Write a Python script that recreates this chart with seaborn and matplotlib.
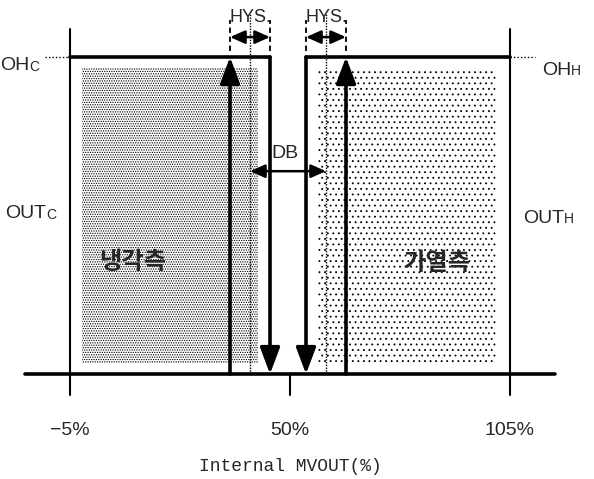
import matplotlib
matplotlib.use('Agg')
import matplotlib.pyplot as plt
import seaborn as sns
import pandas as pd

# x axis: Internal MVOUT (%), y axis: output level (0 = off, 100 = OH)
tick_pos = [-5, 50, 105]
tick_labels = ['\u22125%', '50%', '105%']
out_low, out_high = 0, 100

# cooling side (left box)
cool_box = [-5, 45]
cool_on = 35        # switches on going up
cool_mid = 40       # centre of hysteresis
cool_fill = [-2, 42]

# heating side (right box)
heat_box = [54, 105]
heat_on = 64
heat_mid = 59
heat_fill = [57, 101.5]

fill_y = [3.5, 96.5]
top_y = 108.8
hys_y = 106.3
db_y = 64

sns.set_theme(style='white')
sans = ['Liberation Sans', 'DejaVu Sans']
plt.rcParams['font.family'] = sans
plt.rcParams['hatch.linewidth'] = 0.6

fig = plt.figure(figsize=(5.94, 4.79), dpi=100)
ax = fig.add_axes([0, 0, 1, 1])
ax.set_xlim(-22.5, 126)
ax.set_ylim(-33.1, 118.0)
ax.axis('off')

thick = 2.6
thin = 1.5

# stippled areas
ax.fill_between(cool_fill, fill_y[0], fill_y[1], facecolor='white',
                edgecolor='black', hatch='.......', linewidth=0)
ax.fill_between(heat_fill, fill_y[0], fill_y[1], facecolor='white',
                edgecolor='black', hatch='...', linewidth=0)

# baseline
base = pd.DataFrame({'x': [-16.25, 116.25], 'y': [out_low, out_low]})
sns.lineplot(data=base, x='x', y='y', color='black', lw=thick, ax=ax)

# outer thin verticals at -5% and 105%, ticks at 50%
for xp in [cool_box[0], heat_box[1]]:
    ax.plot([xp, xp], [-6.6, top_y], color='black', lw=thin)
ax.plot([tick_pos[1], tick_pos[1]], [-6.6, out_low], color='black', lw=thin)

# box tops
top_c = pd.DataFrame({'x': cool_box, 'y': [out_high, out_high]})
top_h = pd.DataFrame({'x': heat_box, 'y': [out_high, out_high]})
sns.lineplot(data=top_c, x='x', y='y', color='black', lw=thick, ax=ax)
sns.lineplot(data=top_h, x='x', y='y', color='black', lw=thick, ax=ax)

# OH dotted leaders
ax.plot([-11.25, cool_box[0]], [out_high, out_high], color='black', lw=1, ls=(0, (1, 1.5)))
ax.plot([heat_box[1], 111.25], [out_high, out_high], color='black', lw=1, ls=(0, (1, 1.5)))

big = dict(arrowstyle='-|>,head_length=0.8,head_width=0.3', mutation_scale=20,
           lw=thick, color='black', shrinkA=0, shrinkB=0)
# switching arrows
ax.annotate('', xy=(cool_on, out_high), xytext=(cool_on, out_low), arrowprops=big)
ax.annotate('', xy=(cool_box[1], out_low), xytext=(cool_box[1], out_high), arrowprops=big)
ax.annotate('', xy=(heat_on, out_high), xytext=(heat_on, out_low), arrowprops=big)
ax.annotate('', xy=(heat_box[0], out_low), xytext=(heat_box[0], out_high), arrowprops=big)

# hysteresis centre dotted lines
for xm in [cool_mid, heat_mid]:
    ax.plot([xm, xm], [out_low, 113.5], color='black', lw=1, ls=(0, (1, 1)))

# HYS brackets
small = dict(arrowstyle='<|-|>,head_length=0.45,head_width=0.2', mutation_scale=20,
             lw=1.8, color='black', shrinkA=0, shrinkB=0)
for a, b in [(cool_on, cool_box[1]), (heat_box[0], heat_on)]:
    for xb in [a, b]:
        ax.plot([xb, xb], [102, 111.7], color='black', lw=1.3, ls=(0, (3, 2)))
    ax.annotate('', xy=(a, hys_y), xytext=(b, hys_y), arrowprops=small)
    ax.text((a + b) / 2, 112.6, 'HYS.', ha='center', va='center', fontsize=13)

# DB arrow
ax.annotate('', xy=(cool_mid, db_y), xytext=(heat_mid, db_y), arrowprops=small)
ax.text(48.75, 69.5, 'DB', ha='center', va='center', fontsize=14)


def sub_label(x, y, main, sub):
    t = ax.text(x, y, main, ha='left', va='center', fontsize=14)
    ax.annotate(sub, xy=(1, 0.2), xycoords=t, ha='left', va='baseline', fontsize=10)


sub_label(-22.5, 97.2, 'OH', 'C')
sub_label(-21.25, 50.5, 'OUT', 'C')
sub_label(113, 95.9, 'OH', 'H')
sub_label(108.25, 49.2, 'OUT', 'H')

kr = ['Noto Sans CJK KR', 'DejaVu Sans']
ax.text(10.75, 35.3, '냉각측', ha='center', va='center', fontsize=17.5,
        fontweight='bold', family=kr)
ax.text(86.75, 35.0, '가열측', ha='center', va='center', fontsize=17.5,
        fontweight='bold', family=kr)

for xp, lab in zip(tick_pos, tick_labels):
    ax.text(xp, -17.7, lab, ha='center', va='center', fontsize=14)

ax.text(50, -29.3, 'Internal MVOUT(%)', ha='center', va='center', fontsize=13,
        family=['Liberation Mono', 'DejaVu Sans Mono'])

fig.savefig('out.png', dpi=100)
